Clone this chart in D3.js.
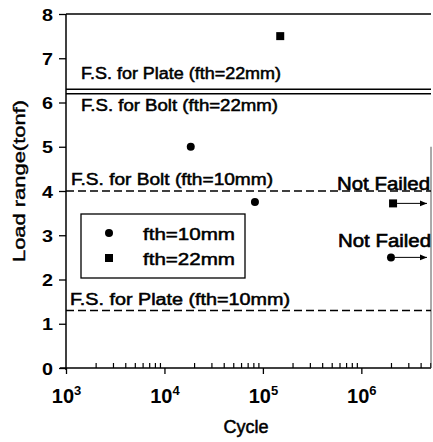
<!DOCTYPE html>
<html><head><meta charset="utf-8">
<script src="https://cdn.jsdelivr.net/npm/d3@7"></script>
<style>html,body{margin:0;padding:0;background:#fff}</style>
</head><body>
<svg id="c" width="433" height="442"></svg>
<script>
// ---- data ----
const yTickValues = [0,1,2,3,4,5,6,7,8];
const xTickExponents = [3,4,5,6];
const fth10Cycles = [18500, 83000, 2000000];
const fth10Loads  = [5.0, 3.75, 2.5];
const fth10NotFailed = [false, false, true];
const fth22Cycles = [150000, 2100000];
const fth22Loads  = [7.5, 3.72];
const fth22NotFailed = [false, true];
const refNames  = ["F.S. for Plate (fth=22mm)", "F.S. for Bolt (fth=22mm)", "F.S. for Bolt (fth=10mm)", "F.S. for Plate (fth=10mm)"];
const refValues = [6.3, 6.2, 4.0, 1.3];
const refDashed = [false, false, true, true];
const legendNames = ["fth=10mm", "fth=22mm"];
const notFailedText = "Not Failed";

// ---- layout ----
const svg = d3.select("#c");
const L = 66, R = 431, T = 14, B = 368;
const x = d3.scaleLog().domain([1e3, 5.1e6]).range([L, R]);
const y = d3.scaleLinear().domain([0, 8]).range([B, T]);
const F = "'Liberation Sans', Arial, Helvetica, sans-serif";
function heavy(sel, w){ return sel.attr("stroke","#000").attr("stroke-width",w).attr("paint-order","stroke"); }

svg.append("rect").attr("width",433).attr("height",442).attr("fill","#fff");

// y axis
const ya = svg.append("g").attr("transform",`translate(${L},0)`)
  .call(d3.axisLeft(y).tickValues(yTickValues).tickSize(7).tickPadding(6).tickFormat(d3.format("d")));
ya.select(".domain").attr("stroke","#000").attr("stroke-width",1.5).attr("d",`M0,${T}V${B+2}`);
ya.selectAll(".tick line").attr("stroke","#000").attr("stroke-width",1.3);
ya.selectAll(".tick text").attr("font-family",F).attr("font-size",17).attr("font-weight","bold")
  .attr("fill","#000").attr("dy","0.36em").attr("textLength",11).attr("lengthAdjust","spacingAndGlyphs");

// x axis: major ticks
const xMajor = xTickExponents.map(e => Math.pow(10, e));
const xa = svg.append("g").attr("transform",`translate(0,${B})`)
  .call(d3.axisBottom(x).tickValues(xMajor).tickSize(6).tickFormat(""));
xa.select(".domain").attr("stroke","#000").attr("stroke-width",1.5).attr("d",`M${L-6},0H${R}`);
xa.selectAll(".tick line").attr("stroke","#000").attr("stroke-width",1.3);
xa.selectAll(".tick").each(function(d, i){
  const t = d3.select(this).append("text").attr("y",35).attr("text-anchor","middle")
    .attr("font-family",F).attr("font-weight","bold").attr("fill","#000");
  t.append("tspan").attr("font-size",20).text("10");
  t.append("tspan").attr("font-size",13).attr("dy",-8).text(String(xTickExponents[i]));
});
// x axis: minor ticks (inward)
const xMinor = [];
xTickExponents.forEach(e => { for (let k = 2; k <= 9; k++) { const v = k * Math.pow(10, e); if (v <= x.domain()[1]) xMinor.push(v); } });
const xm = svg.append("g").attr("transform",`translate(0,${B})`)
  .call(d3.axisTop(x).tickValues(xMinor).tickSize(5).tickFormat(""));
xm.select(".domain").remove();
xm.selectAll(".tick line").attr("stroke","#000").attr("stroke-width",1.2);

// frame: top and partial right
svg.append("line").attr("x1",L).attr("x2",R).attr("y1",T).attr("y2",T).attr("stroke","#000").attr("stroke-width",1.5);
svg.append("line").attr("x1",R).attr("x2",R).attr("y1",y(5)).attr("y2",B).attr("stroke","#555").attr("stroke-width",1);

// reference lines
refValues.forEach((v, i) => {
  svg.append("line").attr("x1",L).attr("x2",R).attr("y1",y(v)).attr("y2",y(v))
    .attr("stroke","#000").attr("stroke-width",1.5)
    .attr("stroke-dasharray", refDashed[i] ? "8,4" : null);
});
const refLabelPos = [[81,79,200],[81,111,197],[71,185,202],[70,305,220]];
refNames.forEach((s, i) => {
  const p = refLabelPos[i];
  heavy(svg.append("text").attr("x",p[0]).attr("y",p[1]).attr("font-family",F).attr("font-size",16)
    .attr("fill","#000")
    .attr("textLength",p[2]).attr("lengthAdjust","spacingAndGlyphs").text(s), 0.5);
});

// arrow marker
svg.append("defs").append("marker").attr("id","ah").attr("viewBox","0 0 10 10")
  .attr("refX",10).attr("refY",5).attr("markerWidth",7).attr("markerHeight",7)
  .attr("markerUnits","userSpaceOnUse").attr("orient","auto")
  .append("path").attr("d","M0,1L10,5L0,9Z").attr("fill","#000");

// points fth=10mm (circles)
fth10Cycles.forEach((c, i) => {
  svg.append("circle").attr("cx",x(c)).attr("cy",y(fth10Loads[i])).attr("r",4).attr("fill","#000");
  if (fth10NotFailed[i]) {
    svg.append("line").attr("x1",x(c)+4).attr("x2",427).attr("y1",y(fth10Loads[i])).attr("y2",y(fth10Loads[i]))
      .attr("stroke","#000").attr("stroke-width",1).attr("marker-end","url(#ah)");
  }
});
// points fth=22mm (squares)
fth22Cycles.forEach((c, i) => {
  svg.append("rect").attr("x",x(c)-4).attr("y",y(fth22Loads[i])-4).attr("width",8).attr("height",8).attr("fill","#000");
  if (fth22NotFailed[i]) {
    svg.append("line").attr("x1",x(c)+4).attr("x2",427).attr("y1",y(fth22Loads[i])).attr("y2",y(fth22Loads[i]))
      .attr("stroke","#000").attr("stroke-width",1).attr("marker-end","url(#ah)");
  }
});
// Not Failed labels
[[337,190],[338,247]].forEach(p => {
  heavy(svg.append("text").attr("x",p[0]).attr("y",p[1]).attr("font-family",F).attr("font-size",18)
    .attr("fill","#000")
    .attr("textLength",93).attr("lengthAdjust","spacingAndGlyphs").text(notFailedText), 0.6);
});

// legend
svg.append("rect").attr("x",81).attr("y",214).attr("width",164).attr("height",64)
  .attr("fill","#fff").attr("stroke","#000").attr("stroke-width",1.3);
svg.append("circle").attr("cx",109).attr("cy",233).attr("r",4).attr("fill","#000");
svg.append("rect").attr("x",105).attr("y",254).attr("width",8).attr("height",8).attr("fill","#000");
legendNames.forEach((s, i) => {
  heavy(svg.append("text").attr("x",143).attr("y",240 + i*25).attr("font-family",F).attr("font-size",17)
    .attr("fill","#000")
    .attr("textLength",92).attr("lengthAdjust","spacingAndGlyphs").text(s), 0.5);
});

// axis titles
heavy(svg.append("text").attr("x",246).attr("y",433).attr("text-anchor","middle").attr("font-family",F)
  .attr("font-size",18).attr("fill","#000").text("Cycle"), 0.5);
heavy(svg.append("text").attr("transform","translate(25,181) rotate(-90)").attr("text-anchor","middle")
  .attr("font-family",F).attr("font-size",17).attr("fill","#000")
  .attr("textLength",162).attr("lengthAdjust","spacingAndGlyphs").text("Load range(tonf)"), 0.4);
</script>
</body></html>
